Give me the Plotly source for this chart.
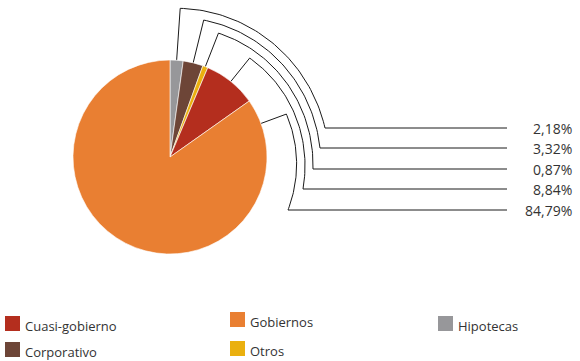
import math
import plotly.graph_objects as go

# ---- data ----
categories = ["Hipotecas", "Corporativo", "Otros", "Cuasi-gobierno", "Gobiernos"]
values = [2.18, 3.32, 0.87, 8.84, 84.79]
value_labels = ["2,18%", "3,32%", "0,87%", "8,84%", "84,79%"]
colors = ["#97979A", "#6D4537", "#EAB00F", "#B42E1E", "#E97F32"]

legend_order = ["Cuasi-gobierno", "Corporativo", "Gobiernos", "Otros", "Hipotecas"]

# ---- layout constants (pixels) ----
W, H = 580, 361
CX, CY, R = 170, 157, 97
bend_r = [149, 141, 133, 127, 124]          # radius where leader leaves the slice
row_y = [128, 148, 169, 189, 210]            # label rows
arc_end_x = [325, 320, 313, 303, 288]        # where arc meets the horizontal line
line_end_x = 507
label_x = 574

fig = go.Figure()

fig.add_trace(go.Pie(
    labels=categories, values=values, sort=False, direction="clockwise", rotation=0,
    marker=dict(colors=colors, line=dict(color="white", width=0.6)),
    textinfo="none", hoverinfo="label+percent", showlegend=False,
    domain=dict(x=[(CX - R) / W, (CX + R) / W], y=[1 - (CY + R) / H, 1 - (CY - R) / H]),
))

# leader lines computed from slice angles
total = sum(values)
cum = 0.0
for i, v in enumerate(values):
    a0 = cum / total * 360
    a1 = (cum + v) / total * 360
    cum += v
    if a1 - a0 > 90:
        anchor = a0 + 15
    else:
        anchor = (a0 + a1) / 2
    xs, ys = [], []
    ra = math.radians(anchor)
    xs.append(CX + R * math.sin(ra)); ys.append(CY - R * math.cos(ra))
    ex, ey = arc_end_x[i], row_y[i]
    r_end = math.hypot(ex - CX, ey - CY)
    a_end = math.degrees(math.atan2(ex - CX, -(ey - CY)))
    n = 60
    for k in range(n + 1):
        t = k / n
        a = math.radians(anchor + (a_end - anchor) * t)
        r = bend_r[i] + (r_end - bend_r[i]) * t
        xs.append(CX + r * math.sin(a)); ys.append(CY - r * math.cos(a))
    xs.append(line_end_x); ys.append(ey)
    fig.add_trace(go.Scatter(x=xs, y=ys, mode="lines", line=dict(color="#1a1a1a", width=1),
                             hoverinfo="skip", showlegend=False))
    fig.add_annotation(x=label_x, y=ey, text=value_labels[i], showarrow=False,
                       xanchor="right", yanchor="middle",
                       font=dict(size=14, color="#333333", family="Open Sans"))

# manual legend
leg_pos = {
    "Cuasi-gobierno": (5, 316),
    "Corporativo": (5, 342),
    "Gobiernos": (230, 312),
    "Otros": (230, 341),
    "Hipotecas": (438, 316),
}
for name in legend_order:
    x0, y0 = leg_pos[name]
    c = colors[categories.index(name)]
    fig.add_shape(type="rect", xref="x", yref="y", x0=x0, x1=x0 + 15, y0=y0, y1=y0 + 15,
                  fillcolor=c, line=dict(width=0))
    fig.add_annotation(x=x0 + 18, y=y0 + 10, text=name, showarrow=False,
                       xanchor="left", yanchor="middle",
                       font=dict(size=13, color="#333333", family="Open Sans"))

fig.update_layout(
    width=W, height=H, margin=dict(l=0, r=0, t=0, b=0),
    paper_bgcolor="white", plot_bgcolor="rgba(0,0,0,0)",
    xaxis=dict(range=[0, W], visible=False, fixedrange=True),
    yaxis=dict(range=[H, 0], visible=False, fixedrange=True),
    showlegend=False,
)
fig.write_html("out.html", config={"displayModeBar": False},
               post_script="document.body.style.margin='0';document.body.style.overflow='hidden';")
